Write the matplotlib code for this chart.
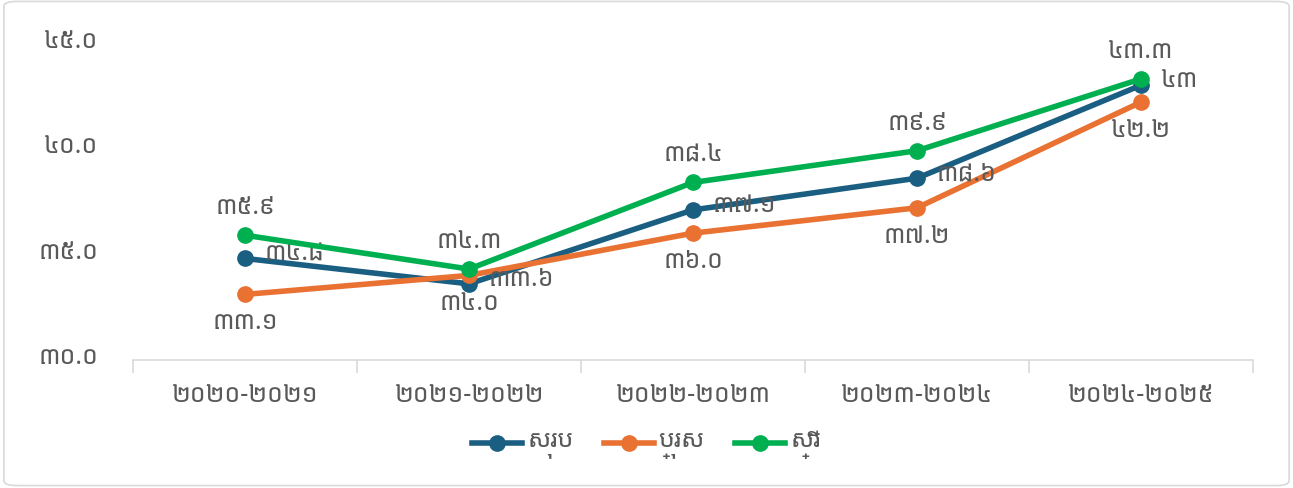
import matplotlib
matplotlib.use("Agg")
import matplotlib.pyplot as plt
from matplotlib import font_manager
from matplotlib.ft2font import FT2Font
from matplotlib.patches import FancyBboxPatch

years = ["២០២០-២០២១", "២០២១-២០២២", "២០២២-២០២៣", "២០២៣-២០២៤", "២០២៤-២០២៥"]
total = [34.8, 33.6, 37.1, 38.6, 43.0]
male = [33.1, 34.0, 36.0, 37.2, 42.2]
female = [35.9, 34.3, 38.4, 39.9, 43.3]
total_labels = ["៣៤.៨", "៣៣.៦", "៣៧.១", "៣៨.៦", "៤៣"]
male_labels = ["៣៣.១", "៣៤.០", "៣៦.០", "៣៧.២", "៤២.២"]
female_labels = ["៣៥.៩", "៣៤.៣", "៣៨.៤", "៣៩.៩", "៤៣.៣"]
yticks = [30, 35, 40, 45]
ytick_labels = ["៣០.០", "៣៥.០", "៤០.០", "៤៥.០"]
series_names = ["សរុប", "ប្រុស", "ស្រី"]


def find_khmer_font():
	found = []
	seen = set()
	for f in font_manager.fontManager.ttflist:
		if f.fname in seen:
			continue
		seen.add(f.fname)
		try:
			cmap = FT2Font(f.fname).get_charmap()
		except Exception:
			continue
		if 0x17E1 in cmap and 0x179F in cmap:
			found.append(f)
	if not found:
		return None
	def score(f):
		s = 0
		n = f.name.lower()
		if "mono" in n:
			s -= 10
		if "khmer" in n:
			s += 5
		if "sans" in n:
			s += 3
		if f.weight in ("normal", 400, "regular"):
			s += 1
		if f.style == "normal":
			s += 1
		return s
	found.sort(key=score, reverse=True)
	return found[0].name


kh = find_khmer_font()
fams = [kh, "DejaVu Sans"] if kh else ["DejaVu Sans"]
plt.rcParams["font.family"] = fams

grey = "#595959"
c_total = "#1a5e82"
c_male = "#e97132"
c_female = "#00b050"

fig = plt.figure(figsize=(12.93, 4.89), dpi=100)
fig.patches.append(FancyBboxPatch((0.003, 0.005), 0.994, 0.99, boxstyle="round,pad=0,rounding_size=0.01",
	transform=fig.transFigure, fill=False, edgecolor="#d9d9d9", linewidth=1.2))
ax = fig.add_axes([0.103, 0.262, 0.866, 0.648])

x = list(range(len(years)))
ax.plot(x, total, color=c_total, lw=4, marker="o", ms=11, label=series_names[0], zorder=3)
ax.plot(x, male, color=c_male, lw=4, marker="o", ms=11, label=series_names[1], zorder=3)
ax.plot(x, female, color=c_female, lw=4, marker="o", ms=11, label=series_names[2], zorder=4)

fs = 18
for i in x:
	ax.annotate(total_labels[i], (i, total[i]), xytext=(14, 0), textcoords="offset points",
		ha="left", va="center", fontsize=fs, color=grey)
	ax.annotate(male_labels[i], (i, male[i]), xytext=(0, -15), textcoords="offset points",
		ha="center", va="top", fontsize=fs, color=grey)
	ax.annotate(female_labels[i], (i, female[i]), xytext=(0, 8), textcoords="offset points",
		ha="center", va="bottom", fontsize=fs, color=grey)

ax.set_xlim(-0.5, len(years) - 0.5)
ax.set_ylim(30, 45)
ax.set_yticks(yticks)
ax.set_yticklabels(ytick_labels, fontsize=fs, color=grey)
ax.set_xticks(x)
ax.set_xticklabels(years, fontsize=fs, color=grey)
ax.tick_params(axis="y", length=0, pad=25)
ax.tick_params(axis="x", length=0, pad=20)
ax.set_xticks([i - 0.5 for i in range(len(years) + 1)], minor=True)
ax.tick_params(axis="x", which="minor", length=9, color="#d9d9d9", width=1.2)
for s in ["top", "right", "left"]:
	ax.spines[s].set_visible(False)
ax.spines["bottom"].set_color("#d9d9d9")
ax.spines["bottom"].set_linewidth(1.2)

fig.legend(loc="center", bbox_to_anchor=(0.5, 0.09), ncol=3, frameon=False, fontsize=fs,
	labelcolor=grey, handlelength=2.0, columnspacing=1.2, handletextpad=0.2)

fig.savefig("out.png", dpi=100)
